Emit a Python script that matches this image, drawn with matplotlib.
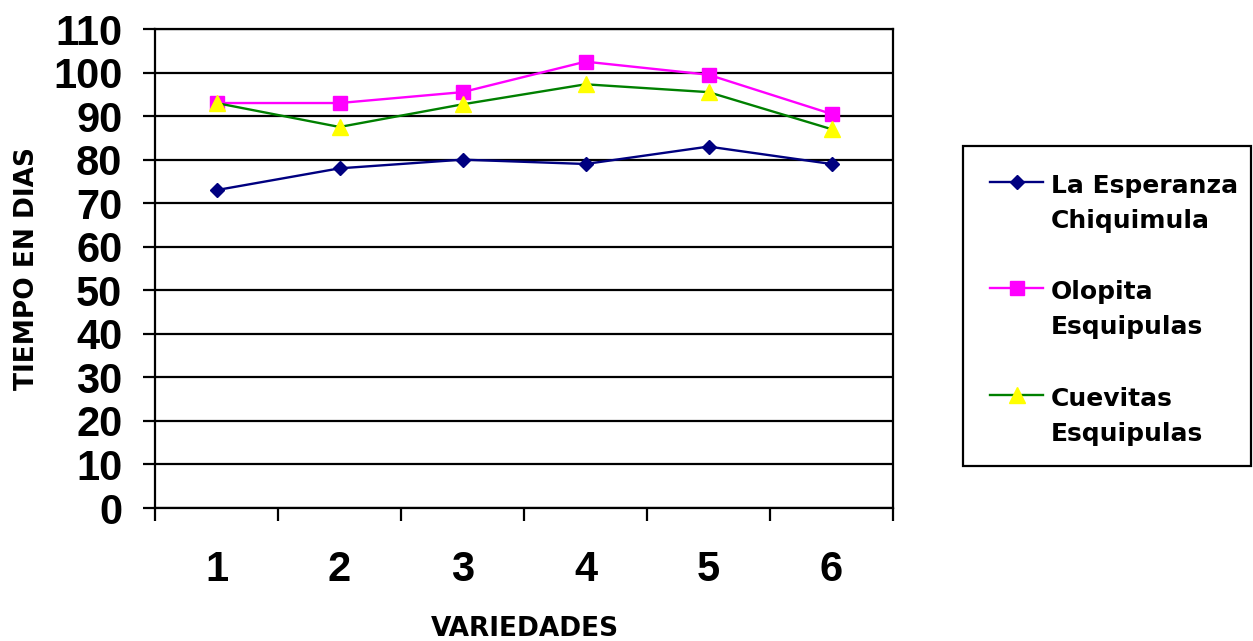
import matplotlib
matplotlib.use("Agg")
import matplotlib.pyplot as plt
from matplotlib.lines import Line2D
from matplotlib.patches import Rectangle

plt.rcParams['font.family'] = ['DejaVu Sans']
plt.rcParams['font.weight'] = 'bold'

W, H = 1253, 641

variedades = [1, 2, 3, 4, 5, 6]
esperanza = [73, 78, 80, 79, 83, 79]
olopita = [93, 93, 95.5, 102.5, 99.5, 90.5]
cuevitas = [93, 87.5, 92.7, 97.3, 95.5, 87]
yticks = list(range(0, 111, 10))

labels = ["La Esperanza\nChiquimula", "Olopita\nEsquipulas", "Cuevitas\nEsquipulas"]
valores = [esperanza, olopita, cuevitas]
estilos = [
    dict(color="#000080", marker="D", ms=7.5, mfc="#000080", mec="#000080"),
    dict(color="#FF00FF", marker="s", ms=10.5, mfc="#FF00FF", mec="#FF00FF"),
    dict(color="#008000", marker="^", ms=11, mfc="#FFFF00", mec="#FFFF00"),
]

fig = plt.figure(figsize=(W / 100, H / 100), dpi=100)
ax = fig.add_axes([155 / W, 1 - 508 / H, (893 - 155) / W, (508 - 29) / H])

for vals, st in zip(valores, estilos):
    ax.plot(variedades, vals, lw=1.7, zorder=3, **st)

ax.set_xlim(0.5, 6.5)
ax.set_ylim(0, 110)
ax.set_yticks(yticks)
ax.yaxis.grid(True, color="black", lw=1.6)
ax.set_axisbelow(True)
for sp in ax.spines.values():
    sp.set_linewidth(1.6)
    sp.set_color("black")

# category labels in the middle, tick marks between categories
ax.set_xticks(variedades)
ax.set_xticks([v - 0.5 for v in variedades] + [variedades[-1] + 0.5], minor=True)
ax.tick_params(axis="x", which="major", length=0, pad=30)
ax.tick_params(axis="x", which="minor", length=9, width=1.6, direction="out")
ax.tick_params(axis="y", length=9, width=1.6, pad=14.5)
for t in ax.get_xticklabels() + ax.get_yticklabels():
    t.set_fontfamily("Liberation Sans")
    t.set_fontsize(30)

fig.text(27 / W, 1 - 269 / H, "TIEMPO EN DIAS", rotation=90,
         ha="center", va="center", fontsize=19)
fig.text(525 / W, 1 - 629 / H, "VARIEDADES", ha="center", va="center", fontsize=19)

# legend box
fig.patches.append(Rectangle((963 / W, 1 - 466 / H), (1251 - 963) / W, (466 - 146) / H,
                             transform=fig.transFigure, fill=False,
                             edgecolor="black", lw=1.6))
ys = [182, 288, 395]
for lab, st, y in zip(labels, estilos, ys):
    yf = 1 - y / H
    fig.lines.append(Line2D([990 / W, 1043 / W], [yf, yf], transform=fig.transFigure,
                            color=st["color"], lw=1.7))
    fig.lines.append(Line2D([1016.5 / W], [yf], transform=fig.transFigure,
                            linestyle="none", marker=st["marker"], ms=st["ms"],
                            mfc=st["mfc"], mec=st["mec"]))
    for i, linea in enumerate(lab.split("\n")):
        fig.text(1051 / W, 1 - (y + 11 + 35 * i) / H, linea,
                 ha="left", va="baseline", fontsize=18)

fig.savefig("out.png", dpi=100)
